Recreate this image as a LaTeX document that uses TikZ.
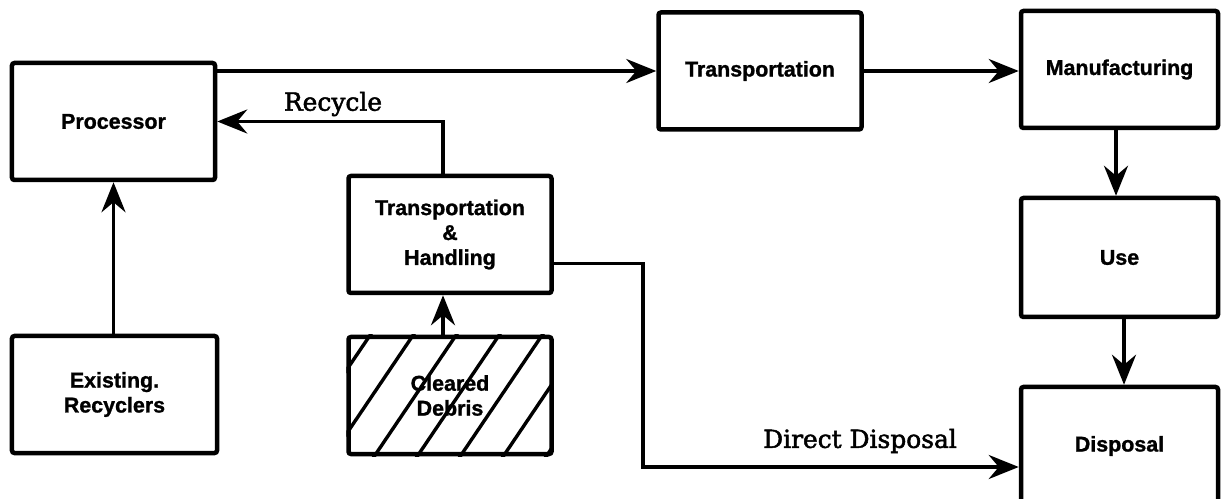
\documentclass[tikz,border=0pt]{standalone}
\usepackage{fontspec}
\newfontfamily\boxfont{Liberation Sans}[BoldFeatures={FakeBold=1.2}]
\newfontfamily\lblfont{DejaVu Serif}[UprightFeatures={FakeBold=2}]
\usetikzlibrary{arrows.meta}
\begin{document}
\begin{tikzpicture}[x=1bp,y=-1bp,
  box/.style={draw, line width=4.5bp, rounded corners=2.5bp, minimum width=203bp, minimum height=117bp,
    inner sep=0pt, align=center, font=\boxfont\bfseries\fontsize{21.5}{25}\selectfont},
  arr/.style={line width=3.6bp, -{Stealth[length=30bp,width=24bp,inset=10bp]}},
  lbl/.style={font=\lblfont\fontsize{25}{30}\selectfont, inner sep=0pt},
  hatch/.style={line width=3.4bp}]
\clip (0,0) rectangle (1221,499);
\fill[white] (0,0) rectangle (1221,499);
% boxes
\node[box] (Processor) at (113.5,121.5) {Processor};
\node[box] (Transportation) at (760,71) {Transportation};
\node[box, minimum width=197bp] (Manufacturing) at (1119.5,69.5) {Manufacturing};
\node[box, minimum width=197bp, minimum height=119bp] (Use) at (1119.5,257.5) {Use};
\node[box, minimum width=197bp, minimum height=118bp] (Disposal) at (1119.5,446) {Disposal};
\node[box, minimum width=205bp] (Existing) at (114.5,394.5) {Existing.\\Recyclers};
\node[box] (TH) at (450,234.5) {Transportation\\\&\\Handling};
\node[box] (Cleared) at (450,395.5) {Cleared\\Debris};
% hatching
\begin{scope}
  \clip (Cleared.south west) rectangle (Cleared.north east);
  \foreach \b in {236,279,...,580} \draw[hatch] (\b,470) -- ++(100,-148);
\end{scope}
% connectors
\draw[arr] (Processor.east |- Transportation.west) -- (Transportation.west);
\draw[arr] (Transportation.east) -- (Manufacturing.west |- Transportation.east);
\draw[arr] ([xshift=-3.5bp]Manufacturing.south) -- ([xshift=-3.5bp]Use.north);
\draw[arr] ([xshift=4.5bp]Use.south) -- ([xshift=4.5bp]Disposal.north);
\draw[arr] (Existing.north -| Processor.south) -- (Processor.south);
\draw[arr] ([xshift=-7bp]Cleared.north) -- ([xshift=-7bp]TH.south);
\draw[arr] ([xshift=-7bp]TH.north) |- (Processor.east);
\coordinate (ddx) at (643,0);
\draw[arr] ([yshift=-29bp]TH.east) coordinate (ds) -- (ds -| ddx) |- ([yshift=-21bp]Disposal.west);
% labels
\node[lbl] (recyclelbl) at (333,104) {Recycle};
\node[lbl] (ddlbl) at (860,441) {Direct Disposal};
\end{tikzpicture}
\end{document}
